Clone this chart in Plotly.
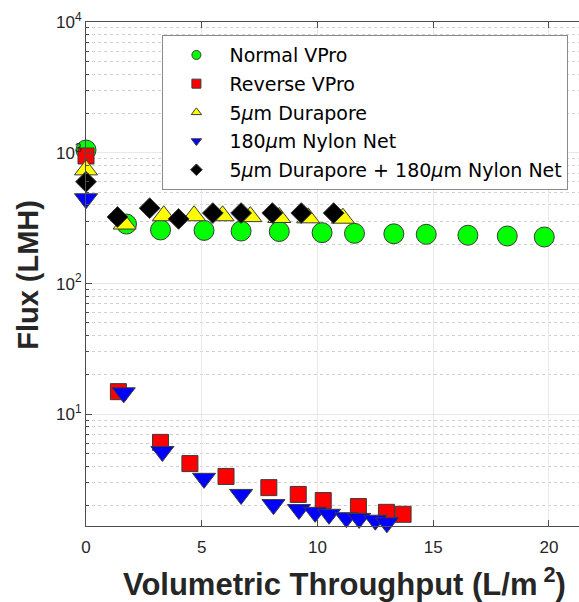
import plotly.graph_objects as go

# Normal VPro
normal_x = [0, 1.75, 3.22, 5.1, 6.7, 8.35, 10.2, 11.6, 13.3, 14.7, 16.5, 18.2, 19.8]
normal_y = [1050, 285, 257, 255, 252, 250, 245, 242, 240, 238, 234, 231, 227]

# Reverse VPro
reverse_x = [0, 1.4, 3.22, 4.49, 6.05, 7.9, 9.17, 10.25, 11.77, 12.98, 13.7]
reverse_y = [945, 14.9, 6.1, 4.2, 3.35, 2.75, 2.44, 2.19, 1.97, 1.78, 1.72]

# 5 um Durapore
dura_x = [0, 1.67, 3.36, 4.67, 5.9, 7.1, 8.35, 9.6, 11.1]
dura_y = [740, 285, 330, 330, 330, 325, 320, 318, 316]

# 180 um Nylon Net
nylon_x = [0, 1.63, 3.3, 5.1, 6.7, 8.1, 9.2, 9.9, 10.5, 11.25, 11.8, 12.5, 13.0]
nylon_y = [445, 14.6, 5.2, 3.24, 2.44, 2.04, 1.87, 1.78, 1.72, 1.62, 1.6, 1.55, 1.48]

# 5 um Durapore + 180 um Nylon Net
combo_x = [0, 1.36, 2.75, 4.0, 5.48, 6.7, 8.05, 9.3, 10.7]
combo_y = [600, 323, 377, 312, 346, 346, 346, 346, 346]

series = [
    ("Normal VPro", normal_x, normal_y, "circle", "#00ff00", 20),
    ("Reverse VPro", reverse_x, reverse_y, "square", "#ff0000", 16),
    ("5<i>μ</i>m Durapore", dura_x, dura_y, "triangle-up", "#ffff00", 20),
    ("180<i>μ</i>m Nylon Net", nylon_x, nylon_y, "triangle-down", "#0000ff", 20),
    ("5<i>μ</i>m Durapore + 180<i>μ</i>m Nylon Net", combo_x, combo_y, "diamond", "#000000", 16),
]

fig = go.Figure()
for name, xs, ys, sym, col, size in series:
    fig.add_trace(go.Scatter(
        x=xs, y=ys, mode="markers", name=name, showlegend=False,
        cliponaxis=False,
        marker=dict(symbol=sym, color=col, size=size,
                    line=dict(color="#3a3a3a", width=1)),
    ))
# Small legend symbols
for i, (name, xs, ys, sym, col, size) in enumerate(series):
    fig.add_trace(go.Scatter(
        x=[None], y=[None], mode="markers", name=name, legendgroup=f"g{i}",
        marker=dict(symbol=sym, color=col, size=9,
                    line=dict(color="#3a3a3a", width=1)),
    ))

font = "Liberation Sans, Arial, Helvetica, sans-serif"
minor_vals = [m * 10 ** d for d in range(0, 4) for m in range(2, 10)]

fig.update_layout(
    width=579, height=602,
    margin=dict(l=86, r=0, t=22, b=76),
    paper_bgcolor="white", plot_bgcolor="white",
    font=dict(family=font, color="#262626", size=17),
    legend=dict(
        x=0.155, y=0.974, xanchor="left", yanchor="top",
        bgcolor="white", bordercolor="#8a8a8a", borderwidth=1,
        font=dict(size=19, color="#000000", family="DejaVu Sans, sans-serif"),
        tracegroupgap=1, itemwidth=56,
    ),
    xaxis=dict(
        range=[0, 21.3], tickvals=[0, 5, 10, 15, 20],
        ticks="inside", ticklen=6, tickcolor="#4d4d4d",
        showline=True, linecolor="#4d4d4d", linewidth=1, mirror="ticks",
        showgrid=True, gridcolor="#e8e8e8", zeroline=False,
        tickfont=dict(size=17, color="#262626"), ticklabelstandoff=6,
    ),
    yaxis=dict(
        type="log", range=[0.146, 4],
        tickvals=[10, 100, 1000, 10000],
        ticktext=["10<sup>1</sup>", "10<sup>2</sup>", "10<sup>3</sup>", "10<sup>4</sup>"],
        ticks="inside", ticklen=6, tickcolor="#4d4d4d",
        showline=True, linecolor="#4d4d4d", linewidth=1,
        showgrid=True, gridcolor="#e8e8e8", zeroline=False,
        tickfont=dict(size=17, color="#262626"),
        minor=dict(tickvals=minor_vals, ticks="inside", ticklen=3,
                   tickcolor="#4d4d4d", showgrid=True, gridcolor="#d0d0d0",
                   griddash="dot"),
    ),
    annotations=[
        dict(text="<b>Volumetric Throughput (L/m<sup> 2</sup>)</b>",
             xref="paper", yref="paper", x=0.525, y=-0.112,
             xanchor="center", yanchor="middle", showarrow=False,
             font=dict(size=31, color="#262626", family=font)),
        dict(text="<b>Flux (LMH)</b>", textangle=-90,
             xref="paper", yref="paper", x=-0.118, y=0.498,
             xanchor="center", yanchor="middle", showarrow=False,
             font=dict(size=29, color="#262626", family=font)),
    ],
)

fig.write_html("out.html")
